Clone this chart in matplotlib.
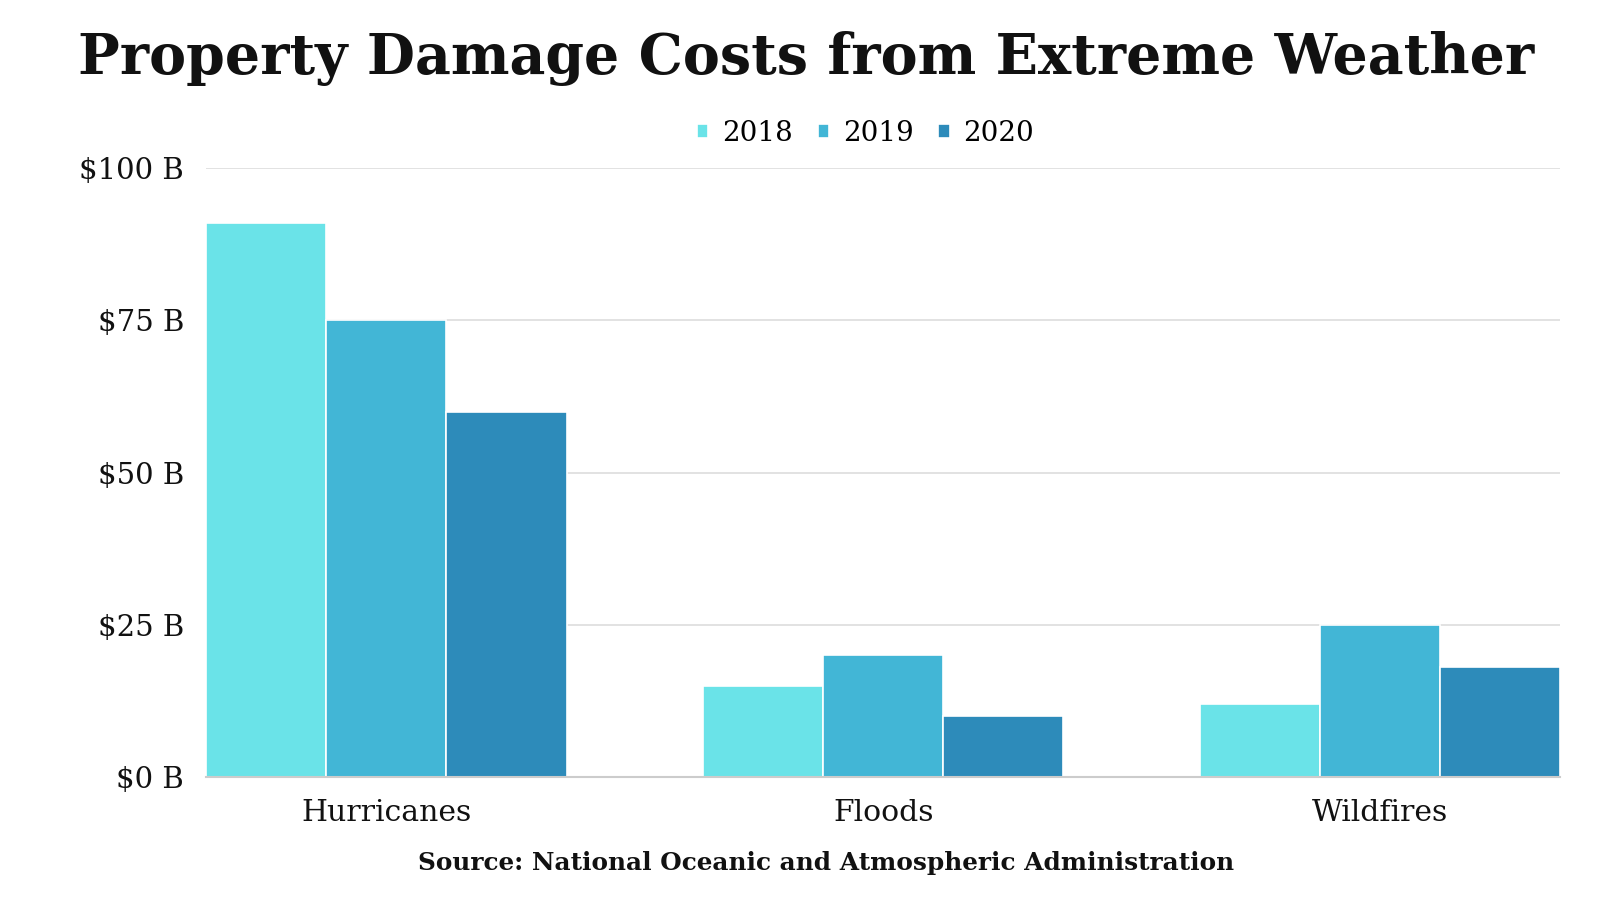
import numpy as np
import matplotlib
matplotlib.use("Agg")
from matplotlib import pyplot as plt
from matplotlib.ticker import FuncFormatter

# data
categories = ["Hurricanes", "Floods", "Wildfires"]
years = ["2018", "2019", "2020"]
costs_2018 = [91, 15, 12]
costs_2019 = [75, 20, 25]
costs_2020 = [60, 10, 18]
colors = ["#6ae3e8", "#42b6d6", "#2d8bba"]

plt.rcParams["font.family"] = ["DejaVu Serif"]

fig = plt.figure(figsize=(16, 9), dpi=100)
ax = fig.add_axes([0.129, 0.1367, 0.846, 0.6766])

x = np.arange(len(categories))
w = 0.725 / 3
for i, (vals, yr) in enumerate(zip([costs_2018, costs_2019, costs_2020], years)):
    ax.bar(x + (i - 1) * w, vals, w, color=colors[i], label=yr,
           edgecolor="white", linewidth=1.2, zorder=3)

ax.set_xlim(-0.3625, 2.3625)
ax.set_ylim(0, 100)
ax.set_yticks([0, 25, 50, 75, 100])
ax.yaxis.set_major_formatter(FuncFormatter(lambda v, p: "$%d B" % v))
ax.set_xticks(x)
ax.set_xticklabels(categories)
ax.tick_params(axis="both", length=0, labelsize=21, colors="#111111")
ax.tick_params(axis="y", pad=16)
ax.tick_params(axis="x", pad=16, labelsize=21.5)

ax.grid(axis="y", color="#dddddd", linewidth=1.2, zorder=0)
for s in ["top", "right", "left"]:
    ax.spines[s].set_visible(False)
ax.spines["bottom"].set_color("#cccccc")
ax.spines["bottom"].set_linewidth(1.5)
ax.spines["bottom"].set_zorder(4)

fig.text(0.504, 0.935, "Property Damage Costs from Extreme Weather",
         ha="center", va="center", fontsize=40, fontweight="bold", color="#111111")

leg = fig.legend(loc="center", bbox_to_anchor=(0.541, 0.852), ncol=3, frameon=False,
                 fontsize=20, handlelength=0.4, handleheight=0.4,
                 handletextpad=0.5, columnspacing=0.9)

fig.text(0.5166, 0.041, "Source: National Oceanic and Atmospheric Administration",
         ha="center", va="center", fontsize=17.8, fontweight="bold", color="#111111")

fig.savefig("out.png", dpi=100, facecolor="white")
